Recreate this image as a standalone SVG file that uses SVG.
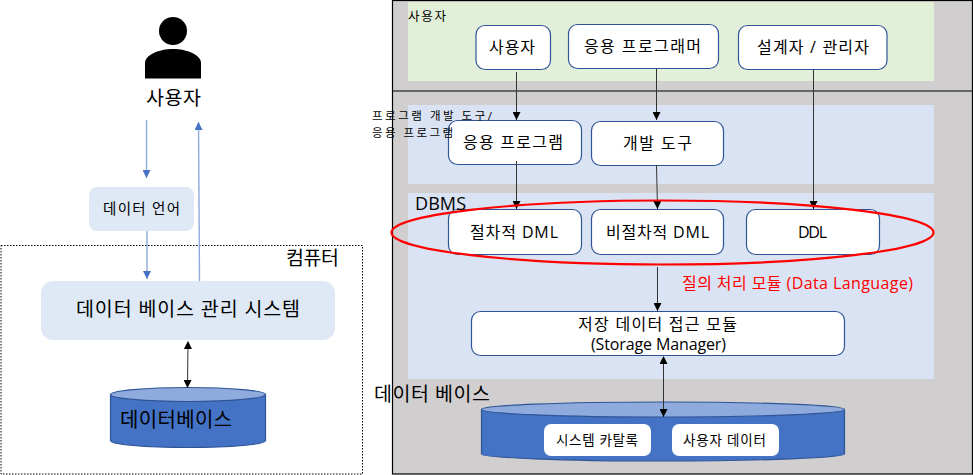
<svg xmlns="http://www.w3.org/2000/svg" width="973" height="475" viewBox="0 0 973 475">
<style>
text{font-family:"Open Sans","Noto Sans CJK KR","Liberation Sans",sans-serif;fill:#000}
.m{text-anchor:middle}
.box{fill:#fff;stroke:#2F5597;stroke-width:1.2}
.soft{fill:#DEE9F5}
.cylb{fill:#4472C4;stroke:#2F5597;stroke-width:1.2}
.cylt{fill:#8FAADC;stroke:#2F5597;stroke-width:1.2}
.k{fill:none;stroke:#333;stroke-width:1}
.b{fill:none;stroke:#8FAADC;stroke-width:1.4}
</style>
<defs>
<marker id="ak" markerUnits="userSpaceOnUse" markerWidth="9" markerHeight="8" refX="8" refY="4" orient="auto"><path d="M0 0L8 4L0 8Z" fill="#000"/></marker>
<marker id="aks" markerUnits="userSpaceOnUse" markerWidth="9" markerHeight="8" refX="1" refY="4" orient="auto"><path d="M8 0L0 4L8 8Z" fill="#000"/></marker>
<marker id="ab" markerUnits="userSpaceOnUse" markerWidth="9" markerHeight="8" refX="8" refY="4" orient="auto"><path d="M0 0L8 4L0 8Z" fill="#4472C4"/></marker>
</defs>
<rect id="bg" width="973" height="475" fill="#fff"/>
<g id="computer"><rect x="1" y="245.500" width="361.500" height="228.500" fill="none" stroke="#000" stroke-width="1" stroke-dasharray="1.500 1.500"/><text x="312.500" y="265" class="m" font-size="19.500" textLength="53">컴퓨터</text></g>
<g id="person"><circle cx="173" cy="31" r="14"/><path d="M145 78.500V63C145 55 159 49 173 49S201 55 201 63V78.500Z"/><text x="173.500" y="105" class="m" font-size="19.500" textLength="55">사용자</text></g>
<g id="data-language"><rect class="soft" x="89" y="187" width="105" height="44" rx="8"/><text x="141.500" y="214" class="m" font-size="14.500" textLength="77">데이터 언어</text></g>
<g id="dbms-left"><rect class="soft" x="41" y="281" width="294" height="59" rx="12"/><text x="188" y="316" class="m" font-size="19.500" textLength="224">데이터 베이스 관리 시스템</text></g>
<g id="db-left"><path class="cylb" d="M110.500 394.500V440.500C110.500 444.500 145 447.500 188 447.500S265.500 444.500 265.500 440.500V394.500Z"/><ellipse class="cylt" cx="188" cy="394.500" rx="77.500" ry="7"/><text x="176" y="427" class="m" font-size="20" textLength="112">데이터베이스</text></g>
<rect id="panel" x="392.500" y="0.500" width="580" height="473.500" fill="#D0CECE" stroke="#000" stroke-width="1.200"/>
<rect id="band-users" x="408" y="2" width="526" height="79" fill="#E2EFD9"/>
<rect id="band-tools" x="408" y="105" width="526" height="79" fill="#DAE3F3"/>
<rect id="band-dbms" x="408" y="193" width="526" height="186" fill="#DAE3F3"/>
<path id="divider" d="M392 91H973" stroke="#000" stroke-width="1.200"/>
<g id="n-user"><rect class="box" x="476" y="25.500" width="74.500" height="44" rx="9"/><text x="512" y="53" class="m" font-size="16" textLength="46">사용자</text></g>
<g id="n-programmer"><rect class="box" x="568.500" y="24.500" width="150" height="44" rx="9"/><text x="642.500" y="52" class="m" font-size="16" textLength="117">응용 프로그래머</text></g>
<g id="n-admin"><rect class="box" x="738.500" y="25.500" width="148.500" height="44" rx="9"/><text x="813" y="53" class="m" font-size="16" textLength="112">설계자 / 관리자</text></g>
<g id="n-app"><rect class="box" x="448.500" y="120.500" width="133" height="44" rx="9"/><text x="513" y="148" class="m" font-size="16" textLength="100">응용 프로그램</text></g>
<g id="n-devtool"><rect class="box" x="591.500" y="121.500" width="132" height="44" rx="9"/><text x="657.500" y="149" class="m" font-size="16" textLength="69">개발 도구</text></g>
<g id="n-pdml"><rect class="box" x="448.500" y="209.500" width="133" height="45" rx="9"/><text x="514" y="238" class="m" font-size="16" textLength="88">절차적 DML</text></g>
<g id="n-npdml"><rect class="box" x="591.500" y="209.500" width="132" height="45" rx="9"/><text x="657.500" y="238" class="m" font-size="16" textLength="103">비절차적 DML</text></g>
<g id="n-ddl"><rect class="box" x="746.500" y="209.500" width="133" height="45" rx="9"/><text x="812.500" y="238" class="m" font-size="16" textLength="29">DDL</text></g>
<g id="n-storage"><rect class="box" x="471.500" y="311.500" width="373" height="44" rx="9"/><text class="m" font-size="16"><tspan x="657.500" y="330" textLength="159">저장 데이터 접근 모듈</tspan><tspan x="658.500" y="350" textLength="135">(Storage Manager)</tspan></text></g>
<g id="n-disk"><path class="cylb" d="M481.500 409.500V454C481.500 457.500 563 461 663 461S844.500 457.500 844.500 454V409.500Z"/><ellipse class="cylt" cx="663" cy="409.500" rx="181.500" ry="7.500"/>
<rect x="544" y="424" width="107" height="32" rx="7" fill="#fff"/><text x="597" y="445" class="m" font-size="13.500" textLength="82">시스템 카탈록</text>
<rect x="672" y="424" width="107" height="32" rx="7" fill="#fff"/><text x="724.500" y="445" class="m" font-size="13.500" textLength="83">사용자 데이터</text></g>
<g id="connectors">
<path class="b" d="M146.500 120V178" marker-end="url(#ab)"/>
<path class="b" d="M199.500 281L198.500 122" marker-end="url(#ab)"/>
<path class="b" d="M147 231V279" marker-end="url(#ab)"/>
<path class="k" d="M188 342L187.500 388" marker-start="url(#aks)" marker-end="url(#ak)"/>
<path class="k" d="M516.500 72V120" marker-end="url(#ak)"/>
<path class="k" d="M656.500 69V120" marker-end="url(#ak)"/>
<path class="k" d="M813.500 70V209" marker-end="url(#ak)"/>
<path class="k" d="M516.500 161V209" marker-end="url(#ak)"/>
<path class="k" d="M656.500 165L657.500 209" marker-end="url(#ak)"/>
<path class="k" d="M657.500 267V311" marker-end="url(#ak)"/>
<path class="k" d="M663.500 357V417" marker-start="url(#aks)" marker-end="url(#ak)"/>
</g>
<ellipse id="query-ring" cx="662.500" cy="232.500" rx="271" ry="32" fill="none" stroke="#F00" stroke-width="2.200"/>
<g id="labels">
<text x="408" y="21" font-size="12.500" textLength="38">사용자</text>
<text font-size="11.500"><tspan x="372" y="120" textLength="120">프로그램 개발 도구/</tspan><tspan x="372" y="137" textLength="81">응용 프로그램</tspan></text>
<text x="415" y="210" font-size="18" textLength="51">DBMS</text>
<text x="374" y="401" font-size="19.500" textLength="116">데이터 베이스</text>
<text x="682" y="289" font-size="16" textLength="231" style="fill:#F00">질의 처리 모듈 (Data Language)</text>
</g>
</svg>
